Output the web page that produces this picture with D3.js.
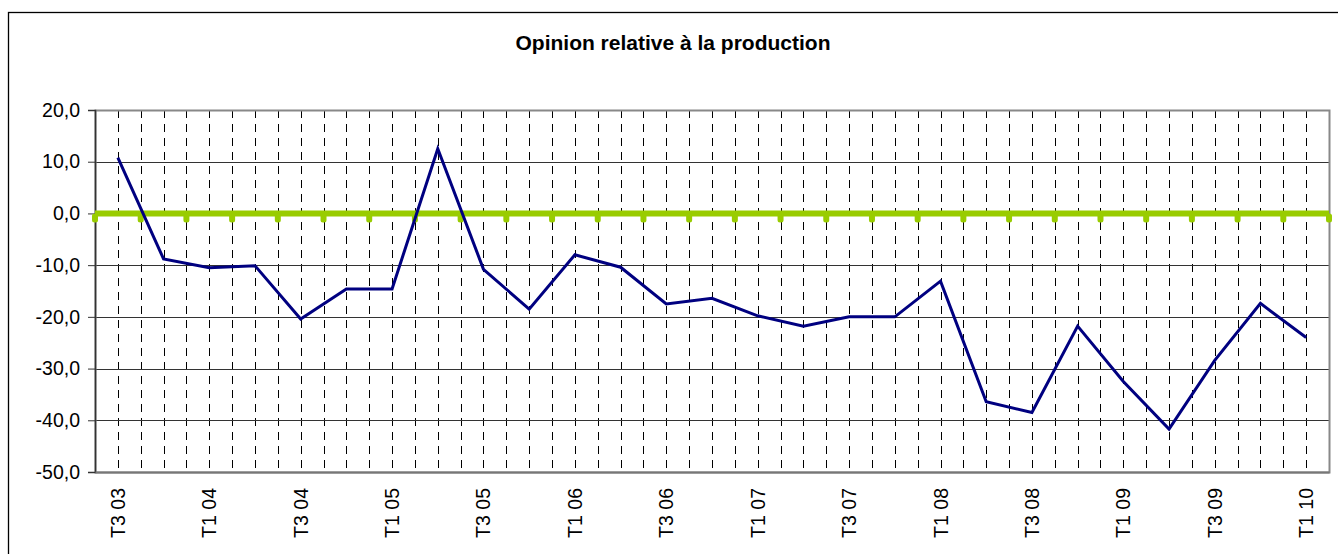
<!DOCTYPE html>
<html>
<head>
<meta charset="utf-8">
<script src="https://cdn.jsdelivr.net/npm/d3@7"></script>
<style>
body { margin: 0; background: #fff; }
svg text { font-family: "Liberation Sans", Arial, sans-serif; }
</style>
</head>
<body>
<div id="chart"></div>
<script>
var quarters = ["T3 03", "T4 03", "T1 04", "T2 04", "T3 04", "T4 04", "T1 05", "T2 05", "T3 05", "T4 05",
    "T1 06", "T2 06", "T3 06", "T4 06", "T1 07", "T2 07", "T3 07", "T4 07", "T1 08", "T2 08",
    "T3 08", "T4 08", "T1 09", "T2 09", "T3 09", "T4 09", "T1 10"];
var opinion = [10.8, -8.8, -10.5, -10.1, -20.4, -14.6, -14.6, 12.5, -10.8, -18.5,
    -8.0, -10.4, -17.5, -16.4, -19.8, -21.8, -20.0, -20.0, -13.1, -36.4,
    -38.5, -21.8, -32.5, -41.7, -28.4, -17.4, -24.0];
var yTicks = [-50, -40, -30, -20, -10, 0, 10, 20];

var W = 1338, H = 554;
var margin = { top: 110, right: 9, bottom: 82, left: 95 };
var width = W - margin.left - margin.right;
var height = H - margin.top - margin.bottom;

var svg = d3.select("#chart").append("svg")
    .attr("width", W)
    .attr("height", H);

// outer chart border (runs off the right and bottom of the picture)
svg.append("rect")
    .attr("x", 8.5).attr("y", 12.5)
    .attr("width", W + 20).attr("height", H + 20)
    .attr("fill", "none")
    .attr("stroke", "#000")
    .attr("stroke-width", 1.3);

svg.append("text")
    .attr("x", 673).attr("y", 50)
    .attr("text-anchor", "middle")
    .style("font-size", "21px")
    .style("font-weight", "bold")
    .text("Opinion relative à la production");

var g = svg.append("g")
    .attr("transform", "translate(" + margin.left + "," + margin.top + ")");

var x = d3.scaleBand().domain(quarters).range([0, width]);
var y = d3.scaleLinear().domain([-50, 20]).range([height, 0]);

// vertical dashed grid at category centers and boundaries
var gridX = [];
quarters.forEach(function (q, i) {
    if (i > 0) gridX.push(x(q));
    gridX.push(x(q) + x.bandwidth() / 2);
});
g.selectAll(".vgrid")
    .data(gridX)
    .enter().append("line")
    .attr("x1", function (d) { return Math.round(d) + 0.5; })
    .attr("x2", function (d) { return Math.round(d) + 0.5; })
    .attr("y1", 0).attr("y2", height)
    .attr("stroke", "#000")
    .attr("stroke-width", 1)
    .attr("stroke-dasharray", "8,6");

// horizontal grid
g.selectAll(".hgrid")
    .data(yTicks.slice(1, -1))
    .enter().append("line")
    .attr("x1", 0).attr("x2", width)
    .attr("y1", function (d) { return Math.round(y(d)) + 0.5; })
    .attr("y2", function (d) { return Math.round(y(d)) + 0.5; })
    .attr("stroke", "#333")
    .attr("stroke-width", 1);

// plot area border
g.append("rect")
    .attr("x", 0.5).attr("y", 0.5)
    .attr("width", width).attr("height", height)
    .attr("fill", "none")
    .attr("stroke", "#888")
    .attr("stroke-width", 2);

// y axis
var yAxis = g.append("g")
    .call(d3.axisLeft(y).tickValues(yTicks).tickSize(7).tickPadding(8)
        .tickFormat(function (d) { return d.toFixed(1).replace(".", ","); }));
yAxis.attr("font-size", null);
yAxis.select(".domain").attr("stroke", "#333").attr("stroke-width", 1.5);
yAxis.selectAll(".tick line").attr("stroke", "#333");
yAxis.selectAll("text")
    .style("font-size", "19.5px")
    .attr("fill", "#000");

// x axis labels, every second quarter
var xAxis = g.append("g")
    .attr("transform", "translate(0," + height + ")")
    .call(d3.axisBottom(x)
        .tickValues(quarters.filter(function (d, i) { return i % 2 === 0; }))
        .tickSize(0).tickPadding(10));
xAxis.attr("font-size", null);
xAxis.select(".domain").attr("stroke", "#777").attr("stroke-width", 2);
xAxis.selectAll("text")
    .style("font-size", "19.5px")
    .attr("fill", "#000")
    .attr("transform", "rotate(-90)")
    .attr("text-anchor", "end")
    .attr("dx", "-16px")
    .attr("dy", "7px")
    .attr("y", 0);

// zero reference line with markers at category boundaries
var bounds = d3.range(quarters.length + 1).map(function (i) { return i * x.step(); });
g.append("line")
    .attr("x1", 0).attr("x2", width)
    .attr("y1", y(0)).attr("y2", y(0))
    .attr("stroke", "#99CC00")
    .attr("stroke-width", 6);
g.selectAll(".zmark")
    .data(bounds)
    .enter().append("rect")
    .attr("x", function (d) { return d - 3; })
    .attr("y", y(0))
    .attr("width", 6).attr("height", 9)
    .attr("rx", 2.5)
    .attr("fill", "#99CC00");

// main series
var line = d3.line()
    .x(function (d, i) { return x(quarters[i]) + x.bandwidth() / 2; })
    .y(function (d) { return y(d); });
g.append("path")
    .datum(opinion)
    .attr("d", line)
    .attr("fill", "none")
    .attr("stroke", "#000080")
    .attr("stroke-width", 3)
    .attr("stroke-linejoin", "miter");
</script>
</body>
</html>
